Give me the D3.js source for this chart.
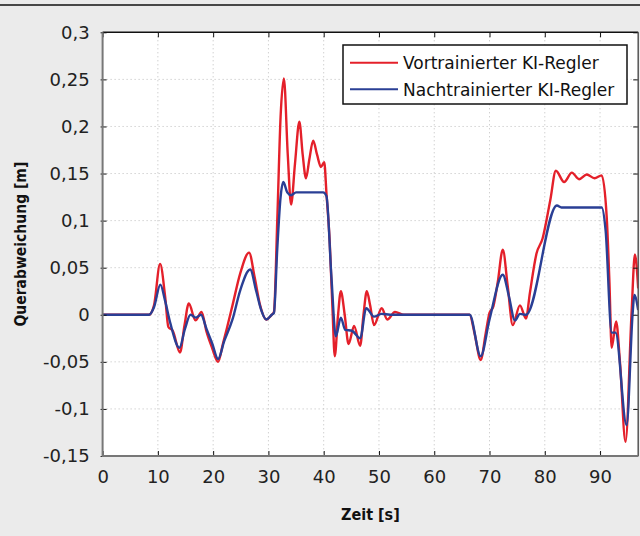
<!DOCTYPE html>
<html>
<head>
<meta charset="utf-8">
<script src="https://cdn.jsdelivr.net/npm/d3@7"></script>
<style>
  body { margin: 0; background: #ebebeb; }
  svg { display: block; }
</style>
</head>
<body>
<svg width="640" height="536"></svg>
<script>
// Zeitachse und Werte
const xTicks = [0, 10, 20, 30, 40, 50, 60, 70, 80, 90];
const yTicks = [0.3, 0.25, 0.2, 0.15, 0.1, 0.05, 0, -0.05, -0.1, -0.15];

const seriesNames = ['Vortrainierter KI-Regler', 'Nachtrainierter KI-Regler'];

const vorT = [0, 8.4, 9.3, 10.4, 11.3, 11.9, 12.7, 14.0, 14.8, 15.6, 16.8, 17.9, 18.8, 19.8, 20.9,
  21.8, 22.5, 23.5, 24.9, 26.5, 27.5, 28.5, 29.6, 30.6, 31.0, 31.6, 32.2, 32.8, 33.5, 34.1, 34.8,
  35.6, 36.2, 36.8, 37.4, 38.1, 38.8, 39.5, 40.1, 40.5, 41.1, 41.6, 42.0, 42.6, 43.1, 43.8, 44.5,
  45.5, 46.6, 47.2, 47.8, 48.4, 49.1, 50.5, 51.5, 52.9, 54.5, 66.4, 67.3, 68.4, 69.3, 70.0, 70.7,
  71.5, 72.4, 73.3, 74.2, 75.5, 76.6, 77.3, 78.5, 79.6, 81.0, 82.0, 83.5, 84.9, 86.2, 87.6, 89.0,
  90.3, 91.2, 91.7, 92.1, 92.9, 93.6, 94.6, 95.7, 96.3, 96.9];
const vorV = [0, 0, 0.01, 0.054, 0.02, -0.013, -0.017, -0.040, -0.012, 0.012, -0.006, 0.003, -0.018, -0.035, -0.050,
  -0.030, -0.014, 0.01, 0.044, 0.066, 0.04, 0.01, -0.005, 0.0, 0.003, 0.1, 0.21, 0.251, 0.17, 0.117, 0.16,
  0.205, 0.17, 0.145, 0.165, 0.185, 0.17, 0.157, 0.162, 0.129, 0.076, 0.005, -0.044, 0.0, 0.025, 0.0, -0.031,
  -0.012, -0.033, 0.0, 0.025, 0.01, -0.011, 0.007, -0.005, 0.003, 0, 0, -0.02, -0.048, -0.02, 0.002, 0.009,
  0.035, 0.069, 0.03, -0.011, 0.010, -0.004, 0.023, 0.065, 0.081, 0.122, 0.153, 0.141, 0.151, 0.144, 0.149, 0.145,
  0.148, 0.104, 0.034, -0.035, -0.007, -0.05, -0.135, 0.002, 0.064, 0.028];

const nachT = [0, 8.4, 9.3, 10.45, 11.3, 12.3, 13.9, 14.9, 15.9, 16.9, 17.8, 18.8, 19.8, 20.9, 22.0,
  23.5, 24.9, 26.7, 27.8, 28.7, 29.6, 30.6, 31.0, 31.6, 32.2, 32.7, 33.4, 34.1, 35.0, 39.9, 40.5,
  41.4, 42.2, 43.1, 43.9, 45.1, 46.6, 47.7, 49.1, 50.5, 52.0, 66.4, 68.4, 70.0, 72.4, 73.5, 74.6,
  75.5, 76.6, 82.2, 83.0, 90.3, 91.0, 92.1, 92.8, 94.8, 95.9, 96.2, 96.9];
const nachV = [0, 0, 0.008, 0.032, 0.015, -0.01, -0.035, -0.015, 0, -0.003, 0, -0.015, -0.03, -0.047, -0.028,
  -0.005, 0.026, 0.048, 0.025, 0.005, -0.005, 0.0, 0.002, 0.07, 0.125, 0.141, 0.13, 0.127, 0.13, 0.13, 0.126,
  0.04, -0.023, -0.003, -0.016, -0.017, -0.025, 0.007, -0.002, 0.001, 0, 0, -0.044, -0.005, 0.0425, 0.02, -0.006,
  0.001, 0, 0.116, 0.114, 0.114, 0.09, -0.019, -0.019, -0.117, 0.002, 0.021, 0.005];

const colors = ['#e4202a', '#2a3f95'];

const svg = d3.select('svg');
const W = 640, H = 536;
const pLeft = 102.6, pRight = 638.2, pTop = 32.3, pBottom = 456;

const x = d3.scaleLinear().domain([0, 96.9]).range([pLeft, pRight]);
const y = d3.scaleLinear().domain([-0.15, 0.3]).range([pBottom, pTop]);

const de = d3.formatLocale({ decimal: ',', thousands: '.', grouping: [3], currency: ['', ' €'], minus: '-' });
const fmt = de.format('~g');

// Hintergrund und Linie oben
svg.append('rect').attr('width', W).attr('height', H).attr('fill', '#ebebeb');
svg.append('line').attr('x1', 0).attr('x2', W).attr('y1', 5).attr('y2', 5)
  .attr('stroke', '#111').attr('stroke-width', 1.5);

svg.append('rect')
  .attr('x', pLeft).attr('y', pTop)
  .attr('width', pRight - pLeft).attr('height', pBottom - pTop)
  .attr('fill', '#fff');

// Gitter
svg.append('g')
  .selectAll('line')
  .data(xTicks.filter((d) => d > 0))
  .join('line')
  .attr('x1', (d) => x(d)).attr('x2', (d) => x(d))
  .attr('y1', pTop).attr('y2', pBottom)
  .attr('stroke', '#bdbdbd').attr('stroke-dasharray', '1,3');

svg.append('g')
  .selectAll('line')
  .data(yTicks.filter((d) => d < 0.3 && d > -0.15))
  .join('line')
  .attr('x1', pLeft).attr('x2', pRight)
  .attr('y1', (d) => y(d)).attr('y2', (d) => y(d))
  .attr('stroke', '#bdbdbd').attr('stroke-dasharray', '1,3');

// Kurven
svg.append('clipPath').attr('id', 'clip')
  .append('rect').attr('x', pLeft).attr('y', pTop).attr('width', pRight - pLeft).attr('height', pBottom - pTop);

const line = d3.line()
  .x((d) => x(d[0]))
  .y((d) => y(d[1]))
  .curve(d3.curveMonotoneX);

const vorData = vorT.map((t, i) => [t, vorV[i]]);
const nachData = nachT.map((t, i) => [t, nachV[i]]);

svg.append('g').attr('clip-path', 'url(#clip)')
  .selectAll('path')
  .data([vorData, nachData])
  .join('path')
  .attr('d', line)
  .attr('fill', 'none')
  .attr('stroke', (d, i) => colors[i])
  .attr('stroke-width', 2.4)
  .attr('stroke-linejoin', 'round');

// Achsen
const font = 'DejaVu Sans';

const xAxis = svg.append('g')
  .attr('transform', `translate(0,${pBottom})`)
  .call(d3.axisBottom(x).tickValues(xTicks).tickFormat(fmt).tickSizeInner(-5).tickSizeOuter(0).tickPadding(14));
xAxis.select('.domain').remove();
xAxis.selectAll('line').attr('stroke', '#111');
xAxis.selectAll('text').attr('font-family', font).attr('font-size', 18).attr('fill', '#222');

const xTopAxis = svg.append('g')
  .attr('transform', `translate(0,${pTop})`)
  .call(d3.axisTop(x).tickValues(xTicks).tickFormat('').tickSizeInner(-5).tickSizeOuter(0));
xTopAxis.select('.domain').remove();
xTopAxis.selectAll('line').attr('stroke', '#111');

const yAxis = svg.append('g')
  .attr('transform', `translate(${pLeft},0)`)
  .call(d3.axisLeft(y).tickValues(yTicks).tickFormat(fmt).tickSizeInner(-4).tickSizeOuter(0).tickPadding(13));
yAxis.select('.domain').remove();
yAxis.selectAll('line').attr('stroke', '#111').attr('x1', -2);
yAxis.selectAll('text').attr('font-family', font).attr('font-size', 18).attr('fill', '#222');

const yRightAxis = svg.append('g')
  .attr('transform', `translate(${pRight},0)`)
  .call(d3.axisRight(y).tickValues(yTicks).tickFormat('').tickSizeInner(-5).tickSizeOuter(0));
yRightAxis.select('.domain').remove();
yRightAxis.selectAll('line').attr('stroke', '#111');

// Rahmen
svg.append('line').attr('x1', pLeft).attr('x2', pRight).attr('y1', pTop).attr('y2', pTop)
  .attr('stroke', '#111').attr('stroke-width', 1.5);
svg.append('line').attr('x1', pRight).attr('x2', pRight).attr('y1', pTop).attr('y2', pBottom)
  .attr('stroke', '#555').attr('stroke-width', 1.5);
svg.append('line').attr('x1', pLeft).attr('x2', pLeft).attr('y1', pTop).attr('y2', pBottom + 1)
  .attr('stroke', '#777').attr('stroke-width', 2);
svg.append('line').attr('x1', pLeft).attr('x2', pRight).attr('y1', pBottom).attr('y2', pBottom)
  .attr('stroke', '#777').attr('stroke-width', 2);

// Achsentitel
const titleFont = 'DejaVu Sans Condensed';

svg.append('text')
  .attr('x', (pLeft + pRight) / 2).attr('y', 520)
  .attr('text-anchor', 'middle')
  .attr('font-family', titleFont).attr('font-weight', 'bold').attr('font-size', 16)
  .attr('fill', '#111')
  .text('Zeit [s]');

svg.append('text')
  .attr('transform', `translate(26,${(pTop + pBottom) / 2}) rotate(-90)`)
  .attr('text-anchor', 'middle')
  .attr('font-family', titleFont).attr('font-weight', 'bold').attr('font-size', 15.5)
  .attr('fill', '#111')
  .text('Querabweichung [m]');

// Legende
const legend = svg.append('g').attr('transform', 'translate(343,45)');
legend.append('rect')
  .attr('width', 284).attr('height', 59)
  .attr('fill', '#fff').attr('stroke', '#111').attr('stroke-width', 1.5);

legend.selectAll('line')
  .data(seriesNames)
  .join('line')
  .attr('x1', 7).attr('x2', 55)
  .attr('y1', (d, i) => 17.7 + i * 26.6).attr('y2', (d, i) => 17.7 + i * 26.6)
  .attr('stroke', (d, i) => colors[i]).attr('stroke-width', 2);

legend.selectAll('text')
  .data(seriesNames)
  .join('text')
  .attr('x', 60)
  .attr('y', (d, i) => 24 + i * 26.6)
  .attr('font-family', font).attr('font-size', 17)
  .attr('fill', '#111')
  .text((d) => d);
</script>
</body>
</html>
